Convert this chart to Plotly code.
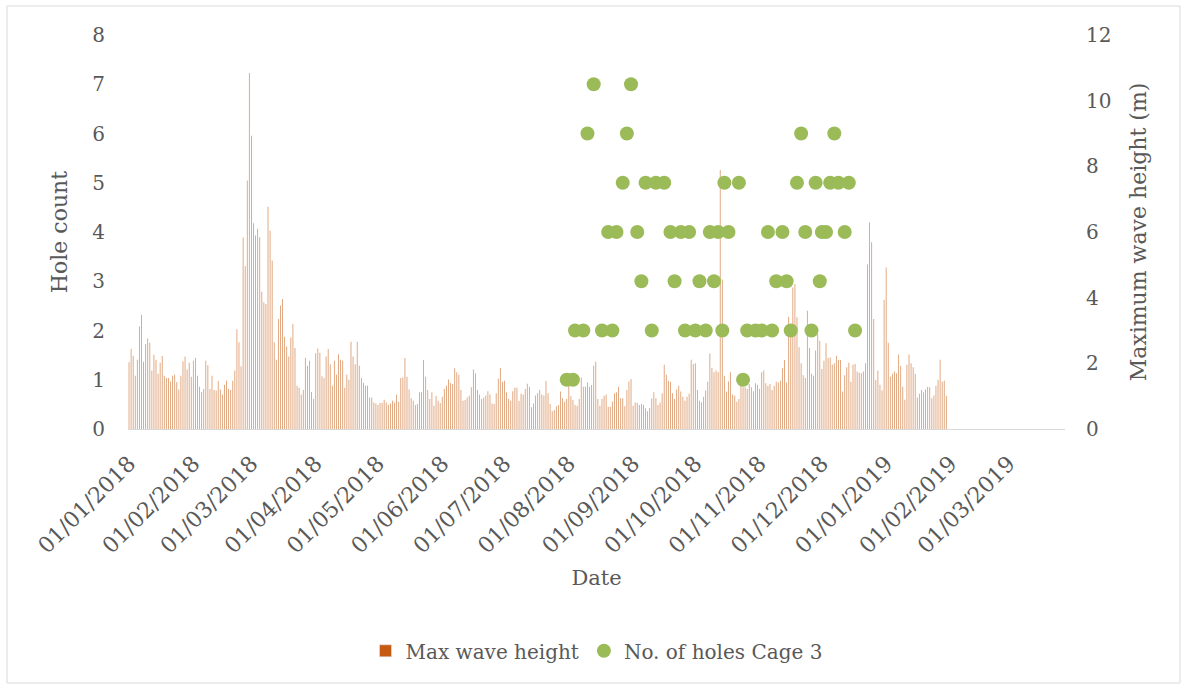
import plotly.graph_objects as go
import pandas as pd

# ---------------- data ----------------
wave_start = "2018-01-01"

max_wave_height = [
    2.03, 2.44, 2.23, 1.62, 2.11, 3.12, 3.48, 2.05, 2.59, 2.76,
    2.63, 1.78, 2.26, 2.11, 1.68, 2.02, 2.22, 1.62, 1.55, 1.55,
    1.45, 1.62, 1.65, 1.43, 1.20, 1.62, 2.06, 2.21, 1.81, 2.02,
    1.59, 2.08, 2.16, 1.62, 1.29, 1.13, 1.22, 2.08, 1.94, 1.22,
    1.62, 1.19, 1.17, 1.46, 1.20, 1.05, 1.35, 1.47, 1.22, 1.19,
    1.47, 1.78, 3.04, 2.64, 1.91, 5.83, 4.96, 7.57, 10.84, 8.93,
    6.27, 5.89, 6.10, 5.84,
    4.18, 3.86, 3.81, 6.77, 6.04, 5.13, 2.64, 2.11, 3.35, 3.76,
    3.96, 2.81, 2.51, 2.21, 2.79, 3.20, 2.47, 1.32, 1.26, 1.05,
    1.19, 2.17, 1.93, 2.08, 1.13, 0.91, 2.31, 2.45, 2.32, 1.61,
    1.55, 2.21, 2.44, 1.97, 1.32, 2.08, 1.65, 2.28, 2.11, 2.08,
    1.26, 1.65, 1.50, 2.66, 2.21, 1.97, 2.66, 1.93, 1.55, 1.41,
    1.32, 1.32, 0.96, 0.96, 0.81, 0.78, 0.73, 0.79, 0.80, 0.89,
    0.81, 0.74, 0.78, 0.86, 0.81,
    1.04, 0.83, 1.55, 1.57, 2.16, 1.59, 1.20, 0.94, 0.86, 0.73,
    0.76, 1.12, 1.12, 2.10, 1.59, 1.19, 0.91, 1.12, 0.71, 1.01,
    0.86, 0.79, 0.98, 1.22, 1.32, 1.51, 1.40, 1.37, 1.85, 1.73,
    1.65, 1.19, 0.86, 0.88, 0.96, 1.01, 1.27, 1.81, 1.70, 1.19,
    1.05, 0.91, 0.96, 1.02, 1.15, 1.05, 0.78, 0.76, 1.09, 1.53,
    1.86, 1.44, 1.47, 1.12, 0.91, 0.86, 1.15, 1.26, 1.26, 0.85,
    1.07, 1.05, 1.22, 1.38, 1.29,
    0.66, 0.78, 1.02, 1.09, 1.19, 1.05, 1.02, 1.46, 1.09, 0.76,
    0.54, 0.58, 0.69, 0.73, 1.14, 0.94, 0.83, 0.91, 1.70, 1.00,
    0.88, 0.73, 0.71, 0.91, 1.57, 1.29, 1.29, 1.42, 1.29, 1.34,
    1.93, 2.05, 0.91, 0.71, 0.91, 1.01, 1.05, 0.68, 0.68, 0.83,
    1.09, 1.12, 1.29, 0.94, 0.94, 0.69, 1.19, 1.45, 1.52, 0.71,
    0.81, 0.79, 0.73, 0.76, 0.73, 0.63, 0.54, 0.64, 0.93, 1.12,
    0.94, 0.73, 0.81, 1.09, 1.96,
    1.65, 1.47, 1.44, 1.09, 0.91, 1.20, 1.32, 1.14, 0.98, 0.86,
    0.98, 1.07, 2.11, 1.98, 2.00, 1.19, 0.86, 0.81, 0.98, 1.17,
    1.44, 2.30, 1.86, 1.73, 1.78, 1.73, 7.89, 4.55, 1.62, 1.14,
    1.45, 1.73, 1.05, 1.01, 0.83, 0.91, 1.32, 1.27, 1.27, 1.22,
    1.37, 1.27, 1.15, 1.39, 1.35, 1.22, 1.73, 1.78, 1.39, 1.32,
    1.37, 1.19, 1.32, 1.44, 1.42, 1.47, 1.85, 2.10, 1.42, 3.42,
    3.00, 4.31, 4.42, 3.40, 2.49,
    2.00, 1.64, 1.55, 3.60, 2.47, 1.68, 1.62, 2.39, 2.89, 2.69,
    1.83, 2.08, 2.61, 2.16, 2.18, 1.96, 2.00, 2.23, 2.10, 2.10,
    1.14, 1.64, 1.88, 2.02, 1.44, 1.96, 1.98, 1.75, 1.71, 1.70,
    1.75, 2.00, 5.01, 6.29, 5.69, 3.35, 1.49, 1.78, 1.35, 1.17,
    3.94, 4.92, 2.63, 1.59, 1.68, 1.75, 1.70, 2.27, 1.93, 1.29,
    0.89, 1.96, 2.27, 2.00, 1.88, 1.68, 0.96, 1.07, 1.19, 1.12,
    1.20, 1.29, 1.27, 0.94, 1.02, 1.32, 1.49, 2.11, 1.44, 1.47,
    1.01,
]

hole_dates = [
    "2018-07-31", "2018-08-03", "2018-08-04", "2018-08-08", "2018-08-10",
    "2018-08-13", "2018-08-17", "2018-08-20", "2018-08-22", "2018-08-24",
    "2018-08-27", "2018-08-29", "2018-08-31", "2018-09-03", "2018-09-05",
    "2018-09-07", "2018-09-10", "2018-09-12", "2018-09-16", "2018-09-19",
    "2018-09-21", "2018-09-24", "2018-09-26", "2018-09-28", "2018-10-01",
    "2018-10-03", "2018-10-06", "2018-10-08", "2018-10-10", "2018-10-12",
    "2018-10-14", "2018-10-15", "2018-10-17", "2018-10-22", "2018-10-24",
    "2018-10-26", "2018-10-30", "2018-11-02", "2018-11-05", "2018-11-07",
    "2018-11-09", "2018-11-12", "2018-11-14", "2018-11-16", "2018-11-19",
    "2018-11-21", "2018-11-23", "2018-11-26", "2018-11-28", "2018-11-30",
    "2018-12-01", "2018-12-03", "2018-12-05", "2018-12-07", "2018-12-09",
    "2018-12-12", "2018-12-14", "2018-12-17",
]
hole_counts = [
    1, 1, 2, 2, 6,
    7, 2, 4, 2, 4,
    5, 6, 7, 4, 3,
    5, 2, 5, 5, 4,
    3, 4, 2, 4, 2,
    3, 2, 4, 3, 4,
    2, 5, 4, 5, 1,
    2, 2, 2, 4, 2,
    3, 4, 3, 2, 5,
    6, 4, 2, 5, 3,
    4, 4, 5, 6, 5,
    4, 5, 2,
]

x_range = ["2017-12-31 12:00", "2019-03-28 05:00"]
left_ticks = [0, 1, 2, 3, 4, 5, 6, 7, 8]
right_ticks = [0, 2, 4, 6, 8, 10, 12]

# ---------------- figure ----------------
FONT = "DejaVu Serif"
GREY = "#595959"
BAR_COLOR = "#C55A11"
DAY_MS = 86400000

dates = pd.date_range(wave_start, periods=len(max_wave_height), freq="D")

fig = go.Figure()
# daily bars (thin, so they look lighter, as in the original rendering)
fig.add_trace(go.Bar(
    x=dates, y=max_wave_height, name="Max wave height",
    width=0.4 * DAY_MS,
    marker=dict(color="rgba(197,90,17,0.62)", line=dict(width=0)),
    yaxis="y", showlegend=False, legendgroup="wave",
))
# legend entry in the full series colour
fig.add_trace(go.Bar(
    x=[None], y=[None], name="Max wave height",
    marker=dict(color=BAR_COLOR), yaxis="y", legendgroup="wave",
))
fig.add_trace(go.Scatter(
    x=pd.to_datetime(hole_dates), y=hole_counts, name="No. of holes Cage 3",
    mode="markers",
    marker=dict(color="#9BBB59", size=14, line=dict(width=0)),
    yaxis="y2",
))

fig.update_layout(
    width=1183, height=686,
    margin=dict(l=128, r=118, t=35, b=257, autoexpand=False),
    paper_bgcolor="white", plot_bgcolor="white",
    font=dict(family=FONT, color=GREY, size=20),
    showlegend=True,
    barmode="overlay",
    legend=dict(
        orientation="h", x=0.5, xanchor="center", y=-0.563, yanchor="middle",
        font=dict(family=FONT, size=20, color=GREY),
        traceorder="normal",
    ),
    xaxis=dict(
        type="date", range=x_range,
        tick0="2018-01-01", dtick="M1", tickformat="%d/%m/%Y",
        tickangle=-45, ticks="", ticklabelstandoff=12,
        tickfont=dict(family=FONT, size=22, color=GREY),
        showline=True, linecolor="#D9D9D9", linewidth=1,
        showgrid=False, zeroline=False,
        title=dict(text="Date", font=dict(family=FONT, size=21, color=GREY), standoff=12),
        automargin=False,
    ),
    yaxis=dict(
        side="right", range=[0, 12], tickvals=right_ticks,
        ticks="", ticklabelstandoff=20,
        tickfont=dict(family=FONT, size=20, color=GREY),
        showgrid=False, zeroline=False, showline=False,
        title=dict(text="Maximum wave height (m)", font=dict(family=FONT, size=22, color=GREY), standoff=20),
        automargin=False,
    ),
    yaxis2=dict(
        side="left", overlaying="y", range=[0, 8], tickvals=left_ticks,
        ticks="", ticklabelstandoff=22,
        tickfont=dict(family=FONT, size=20, color=GREY),
        showgrid=False, zeroline=False, showline=False,
        title=dict(text="Hole count", font=dict(family=FONT, size=22, color=GREY), standoff=18),
        automargin=False,
    ),
    shapes=[dict(
        type="rect", xref="paper", yref="paper",
        x0=-0.1291, x1=1.1227, y0=-0.6447, y1=1.0736,
        line=dict(color="#D9D9D9", width=1), fillcolor="rgba(0,0,0,0)", layer="below",
    )],
)

fig.write_html("out.html")
